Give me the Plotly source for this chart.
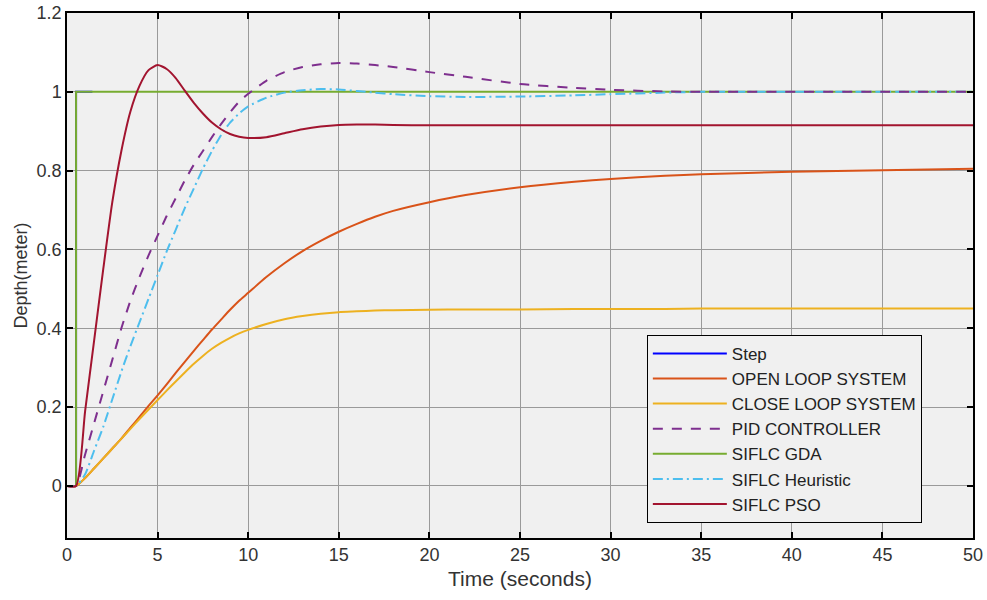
import plotly.graph_objects as go

t = [0, 0.5, 1, 1.5, 2, 2.5, 3, 3.5, 4, 4.5, 5, 5.5, 6, 6.5, 7, 7.5, 8, 8.5, 9, 9.5,
     10, 11, 12, 13, 14, 15, 16, 17, 18, 20, 22, 25, 28, 30, 33, 35, 40, 45, 50]

open_loop = [0, 0, 0.02, 0.045, 0.07, 0.095, 0.12, 0.148, 0.175, 0.203, 0.23, 0.258, 0.287, 0.315,
             0.343, 0.37, 0.397, 0.422, 0.447, 0.47, 0.49, 0.53, 0.565, 0.596, 0.622, 0.645, 0.665,
             0.683, 0.698, 0.72, 0.738, 0.758, 0.772, 0.779, 0.787, 0.791, 0.797, 0.801, 0.805]

close_loop = [0, 0, 0.02, 0.045, 0.07, 0.095, 0.12, 0.145, 0.17, 0.194, 0.218, 0.242, 0.265, 0.288,
              0.31, 0.33, 0.348, 0.363, 0.376, 0.387, 0.396, 0.411, 0.423, 0.431, 0.437, 0.441, 0.443,
              0.445, 0.446, 0.447, 0.448, 0.448, 0.449, 0.449, 0.449, 0.45, 0.45, 0.45, 0.45]

pid = [0, 0, 0.08, 0.16, 0.24, 0.32, 0.4, 0.47, 0.53, 0.585, 0.635, 0.685, 0.73, 0.775, 0.815, 0.85,
       0.885, 0.918, 0.948, 0.975, 0.995, 1.028, 1.05, 1.063, 1.07, 1.073, 1.072, 1.068, 1.063, 1.05,
       1.038, 1.02, 1.01, 1.005, 1.001, 1.0, 1.0, 1.0, 1.0]

heuristic = [0, 0, 0.03, 0.09, 0.15, 0.22, 0.29, 0.355, 0.415, 0.475, 0.535, 0.595, 0.65, 0.705, 0.755,
             0.805, 0.85, 0.89, 0.922, 0.945, 0.963, 0.985, 0.998, 1.004, 1.007, 1.006, 1.002, 0.998,
             0.994, 0.989, 0.987, 0.988, 0.991, 0.994, 0.998, 1.0, 1.0, 1.0, 1.0]

pso = [0, 0, 0.19, 0.37, 0.55, 0.72, 0.85, 0.95, 1.015, 1.055, 1.068, 1.058, 1.035, 1.003, 0.972, 0.945,
       0.922, 0.905, 0.893, 0.886, 0.883, 0.885, 0.895, 0.905, 0.912, 0.916, 0.917, 0.917, 0.916, 0.915,
       0.915, 0.915, 0.915, 0.915, 0.915, 0.915, 0.915, 0.915, 0.915]

gda_t = [0, 0.5, 0.5, 50]
gda = [0, 0, 1, 1]

step_t = [0, 0.5, 0.5, 1.4]
step = [0, 0, 1, 1]

x_ticks = [0, 5, 10, 15, 20, 25, 30, 35, 40, 45, 50]
y_ticks = [0, 0.2, 0.4, 0.6, 0.8, 1, 1.2]
y_tick_labels = ["0", "0.2", "0.4", "0.6", "0.8", "1", "1.2"]

FONT = "Liberation Sans, Arial, sans-serif"
SM = 0.6

fig = go.Figure()

fig.add_trace(go.Scatter(x=step_t, y=step, mode="lines", name="Step",
                         line=dict(color="#0000FF", width=2), legendrank=1))
fig.add_trace(go.Scatter(x=t, y=open_loop, mode="lines", name="OPEN LOOP SYSTEM",
                         line=dict(color="#D95319", width=2, shape="spline", smoothing=SM), legendrank=2))
fig.add_trace(go.Scatter(x=t, y=close_loop, mode="lines", name="CLOSE LOOP SYSTEM",
                         line=dict(color="#EDB120", width=2, shape="spline", smoothing=SM), legendrank=3))
fig.add_trace(go.Scatter(x=gda_t, y=gda, mode="lines", name="SIFLC GDA",
                         line=dict(color="#77AC30", width=2), legendrank=5))
fig.add_trace(go.Scatter(x=t, y=heuristic, mode="lines", name="SIFLC Heuristic",
                         line=dict(color="#4DBEEE", width=2, dash="10px,4px,2px,4px",
                                   shape="spline", smoothing=SM), legendrank=6))
fig.add_trace(go.Scatter(x=t, y=pid, mode="lines", name="PID CONTROLLER",
                         line=dict(color="#7E2F8E", width=2, dash="10px,9px",
                                   shape="spline", smoothing=SM), legendrank=4))
fig.add_trace(go.Scatter(x=t, y=pso, mode="lines", name="SIFLC PSO",
                         line=dict(color="#A2142F", width=2, shape="spline", smoothing=SM), legendrank=7))

axis_common = dict(
    automargin=False,
    ticklabeloverflow="allow",
    showgrid=True, gridcolor="#9a9a9a", gridwidth=1,
    showline=True, linecolor="black", linewidth=1.5, mirror="ticks",
    ticks="inside", ticklen=6, tickcolor="black", tickwidth=1.5,
    zeroline=False,
    tickfont=dict(family=FONT, size=18, color="#333333"),
)

fig.update_xaxes(range=[0, 50], tickvals=x_ticks,
                 title=dict(text="Time (seconds)", font=dict(family=FONT, size=21, color="#333333"),
                            standoff=7),
                 **axis_common)
fig.update_yaxes(range=[-0.132, 1.2], tickvals=y_ticks, ticktext=y_tick_labels,
                 title=dict(text="Depth(meter)", font=dict(family=FONT, size=18, color="#333333"),
                            standoff=4),
                 **axis_common)

fig.update_layout(
    width=987, height=600,
    margin=dict(l=67, r=14, t=13, b=62),
    paper_bgcolor="white",
    plot_bgcolor="#F0F0F0",
    font=dict(family=FONT, color="#222222"),
    showlegend=True,
    legend=dict(
        x=0.64, y=0.387, xanchor="left", yanchor="top",
        bgcolor="#F0F0F0", bordercolor="black", borderwidth=1,
        font=dict(family=FONT, size=17, color="#222222"),
        itemwidth=74, tracegroupgap=0,
    ),
)

fig.write_html(
    "out.html",
    config={"displayModeBar": False},
    post_script="document.body.style.margin='0';document.body.style.overflow='hidden';",
)
